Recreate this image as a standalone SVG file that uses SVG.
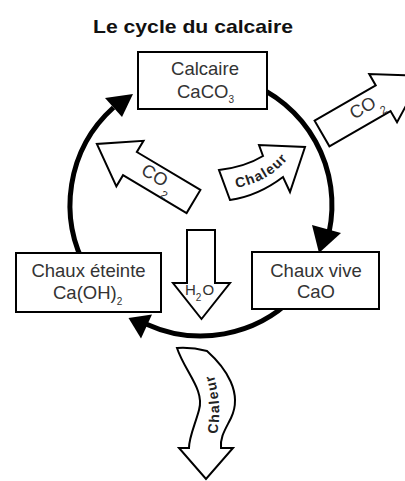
<svg xmlns="http://www.w3.org/2000/svg" width="405" height="481" viewBox="0 0 405 481">
<style>
.box{fill:#fff;stroke:#000;stroke-width:2}
.lbl{font-family:"Liberation Sans",Arial,sans-serif;font-size:18.5px;fill:#333;text-anchor:middle}
.st{text-anchor:start}
.sub{font-size:10px}
.cyc{fill:none;stroke:#000;stroke-width:5}
.head{fill:#000}
.blk{fill:#fff;stroke:#000;stroke-width:2;stroke-linejoin:miter}
.chal{font-family:"Liberation Sans",Arial,sans-serif;font-weight:bold;font-size:14px;fill:#222;letter-spacing:1.3px;text-anchor:middle}
.title{font-family:"Liberation Sans",Arial,sans-serif;font-weight:bold;font-size:19px;fill:#111;text-anchor:middle}
</style>
<defs>
<path id="p-chal1" d="M230,189 Q272,183 292,153"/>
<path id="p-chal2" d="M216,438 Q224,405 212,370"/>
</defs>
<text class="title" x="193" y="33" textLength="200" lengthAdjust="spacingAndGlyphs">Le cycle du calcaire</text>
<g id="connectors">
<path class="cyc" d="M87.6,270.5 A131,131 0 0 1 113.5,107.5"/>
<polygon class="head" points="133,94 105,98 122,117"/>
<path class="cyc" d="M245.8,81.9 A131,131 0 0 1 329.1,232.2"/>
<polygon class="head" points="319,253 312,225 341,233"/>
<path class="cyc" d="M293.6,297.6 A131,131 0 0 1 146.6,324.2"/>
<polygon class="head" points="128.5,318 152,314.5 141,338.5"/>
</g>
<g id="calcaire">
<rect class="box" x="138" y="52" width="129" height="57"/>
<text class="lbl" x="205" y="75">Calcaire</text>
<text class="lbl st" x="177" y="98">CaCO<tspan class="sub" dy="5">3</tspan></text>
</g>
<g id="chaux-eteinte">
<rect class="box" x="16" y="253" width="145" height="59"/>
<text class="lbl" x="88.5" y="277">Chaux éteinte</text>
<text class="lbl st" x="53" y="299">Ca(OH)<tspan class="sub" dy="6">2</tspan></text>
</g>
<g id="chaux-vive">
<rect class="box" x="252" y="252" width="127" height="57"/>
<text class="lbl" x="316" y="277">Chaux vive</text>
<text class="lbl" x="316" y="298">CaO</text>
</g>
<g id="co2-out" transform="translate(322,133.5) rotate(-30)">
<path class="blk" d="M0,-14.8 H70.6 V-27.8 L115.6,0 L70.6,27.8 V14.8 H0 Z"/>
<text class="lbl" style="font-size:18px" x="48" y="4">CO</text>
<text class="lbl st" style="font-size:11px" x="62" y="14">2</text>
</g>
<g id="co2-in">
<path class="blk" transform="translate(193.5,201.5) rotate(-149.2)" d="M0,-13.5 H74 V-26.5 L112.5,0 L74,26.5 V13.5 H0 Z"/>
<g transform="translate(155,175) rotate(31)">
<text class="lbl" style="font-size:18px" x="0" y="6.5">CO</text>
<text class="lbl st" style="font-size:11px" x="15" y="16">2</text>
</g>
</g>
<g id="h2o">
<path class="blk" d="M187,230 H215 V283 H230 L201.5,319 L173,283 H187 Z"/>
<text class="lbl st" style="font-size:15px" x="185" y="295">H<tspan style="font-size:10px" dy="6">2</tspan><tspan dy="-6" dx="1">O</tspan></text>
</g>
<g id="chaleur-in">
<path class="blk" d="M219,170 Q245,167 263,156 L259,145 L305,147 L290,192 L283,177 Q258,196 230,200 Z"/>
<text class="chal"><textPath href="#p-chal1" startOffset="50%">Chaleur</textPath></text>
</g>
<g id="chaleur-out">
<path class="blk" d="M177,348 Q192,347 207,351 C226,368 243,393 231,418 C225,430 220,437 221,448 L233,448 L206,479 L179,448 L189,448 C189,437 195,425 199,410 C205,390 185,372 177,348 Z"/>
<text class="chal"><textPath href="#p-chal2" startOffset="50%">Chaleur</textPath></text>
</g>
</svg>
